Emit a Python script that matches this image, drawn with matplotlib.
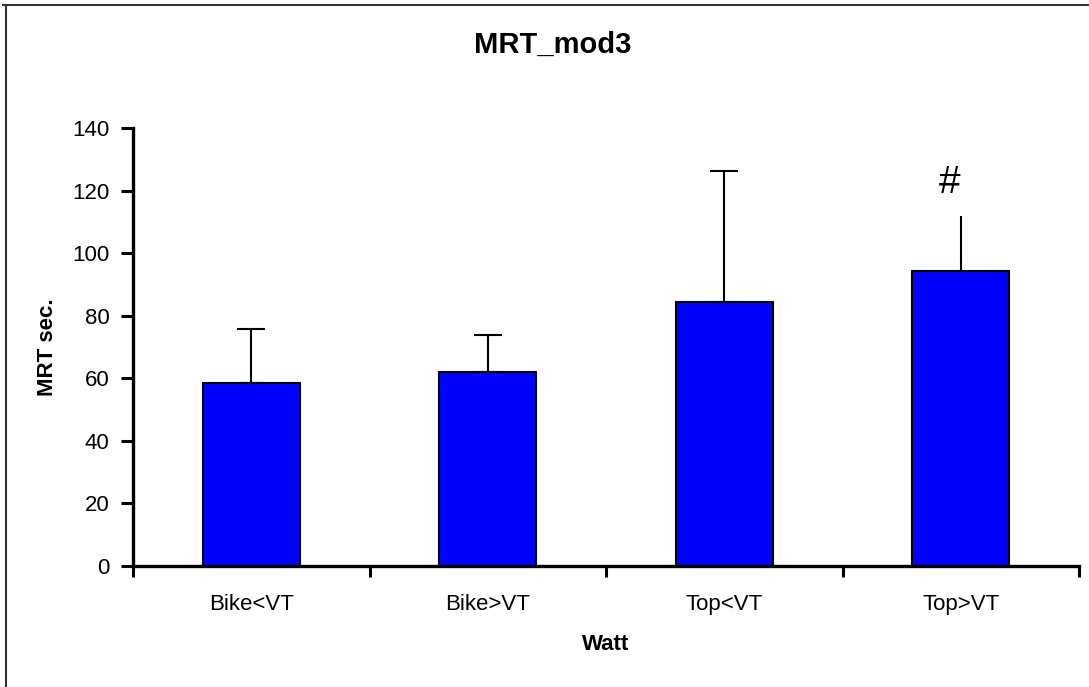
import matplotlib
matplotlib.use("Agg")
import matplotlib.pyplot as plt
from matplotlib.lines import Line2D
import numpy as np

categories = ["Bike<VT", "Bike>VT", "Top<VT", "Top>VT"]
means = [58.6, 62.1, 84.3, 94.3]
errors = [17.1, 11.7, 41.9, 17.6]
yticks = [0, 20, 40, 60, 80, 100, 120, 140]
title = "MRT_mod3"
xlabel = "Watt"
ylabel = "MRT sec."
marker_text = "#"

plt.rcParams['font.family'] = ['Liberation Sans', 'DejaVu Sans']

W, H = 1089, 687
fig = plt.figure(figsize=(W / 100, H / 100), dpi=100)
fig.patch.set_facecolor('white')

# axes position in pixels
left, right, bottom, top = 133, 1079, 566, 128
ax = fig.add_axes([left / W, 1 - bottom / H, (right - left) / W, (bottom - top) / H])

x = np.arange(1, len(categories) + 1)
ax.bar(x, means, width=0.41, color='#0000FF', edgecolor='black', linewidth=1.5, zorder=2)
caps = [10, 10, 10, 0]
for xi, m, e, c in zip(x, means, errors, caps):
    ax.errorbar([xi], [m], yerr=[[0], [e]], fmt='none', ecolor='black',
                elinewidth=1.5, capsize=c, capthick=1.5, zorder=3)

ax.set_xlim(0.5, len(categories) + 0.5)
ax.set_ylim(0, 140)
ax.set_yticks(yticks)
ax.set_yticklabels([str(v) for v in yticks], fontsize=16)

ax.set_xticks(x)
ax.set_xticklabels(categories, fontsize=16)
ax.tick_params(axis='x', which='major', length=0, pad=20)
ax.set_xticks(np.arange(0.5, len(categories) + 1, 1.0), minor=True)
ax.tick_params(axis='x', which='minor', length=8, width=2.2, direction='out', color='black')
ax.tick_params(axis='y', which='major', length=9, width=2.2, direction='out', pad=8)

for s in ['top', 'right']:
    ax.spines[s].set_visible(False)
for s in ['left', 'bottom']:
    ax.spines[s].set_linewidth(2.4)
    ax.spines[s].set_color('black')

ax.set_xlabel(xlabel, fontsize=16, fontweight='bold', labelpad=14)
ax.set_ylabel(ylabel, fontsize=16, fontweight='bold', labelpad=10)

ax.text(3.955, 122.4, marker_text, fontsize=28, ha='center', va='center')

fig.text(553 / W, 1 - 45 / H, title, fontsize=21, fontweight='bold', ha='center', va='center')

# figure frame (top and left edges visible)
fig.add_artist(Line2D([3 / W, 1.0], [1 - 5 / H, 1 - 5 / H], transform=fig.transFigure,
                      color='#333333', linewidth=1.5))
fig.add_artist(Line2D([5.5 / W, 5.5 / W], [0, 1 - 5 / H], transform=fig.transFigure,
                      color='#333333', linewidth=1.5))

fig.savefig("out.png", dpi=100)
